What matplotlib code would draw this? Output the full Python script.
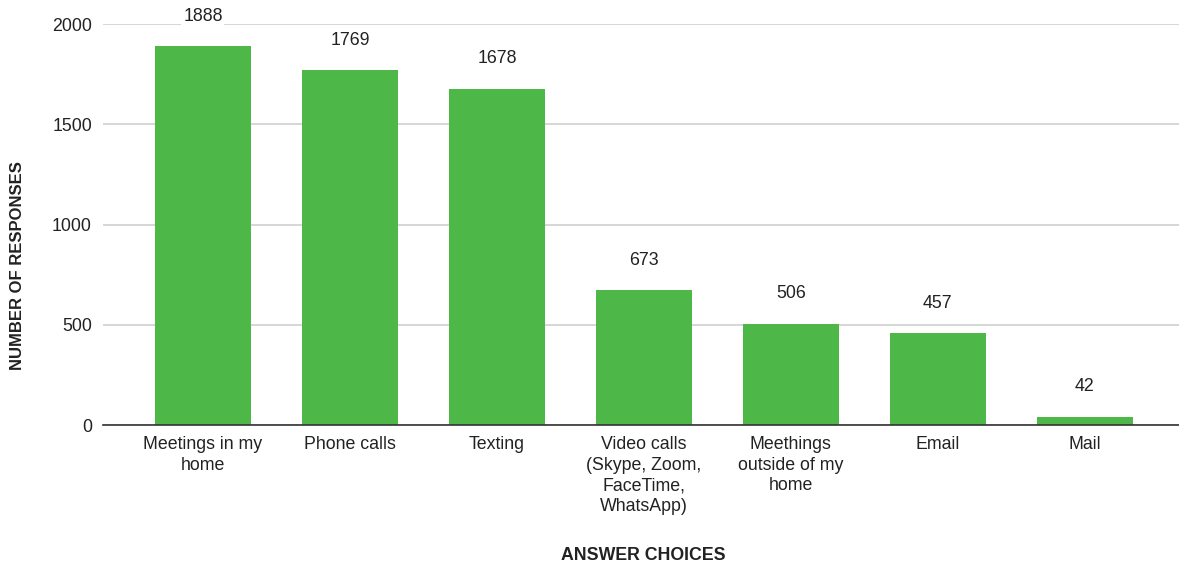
import numpy as np
import matplotlib
matplotlib.use("Agg")
import matplotlib.pyplot as plt

plt.rcParams['font.family'] = ['Liberation Sans', 'DejaVu Sans']

categories = ["Meetings in my\nhome", "Phone calls", "Texting",
              "Video calls\n(Skype, Zoom,\nFaceTime,\nWhatsApp)",
              "Meethings\noutside of my\nhome", "Email", "Mail"]
responses = [1888, 1769, 1678, 673, 506, 457, 42]
yticks = [0, 500, 1000, 1500, 2000]

bar_color = "#4db848"
text_color = "#222222"
fs = 12.8

fig = plt.figure(figsize=(11.79, 5.65), dpi=100)
ax = fig.add_axes([103 / 1179, 140 / 565, 1 - 103 / 1179, 401 / 565])

x = np.arange(len(categories))
bars = ax.bar(x, responses, width=0.65, color=bar_color, zorder=2)

for xi, v in zip(x, responses):
    ax.annotate(str(v), (xi, v), xytext=(0, 21.5), textcoords="offset points",
                ha="center", va="center", fontsize=fs, color=text_color,
                bbox=dict(boxstyle="square,pad=0.1", fc="white", ec="none"),
                zorder=3)

ax.set_xlim(-0.68, 6.64)
ax.set_ylim(0, 2000)
ax.set_yticks(yticks)
ax.set_yticklabels([str(t) for t in yticks], fontsize=fs, color=text_color)
ax.set_xticks(x)
ax.set_xticklabels(categories, fontsize=fs, color=text_color,
                   va="top", ha="center", linespacing=1.28)
ax.tick_params(axis="both", length=0)
ax.tick_params(axis="y", pad=8)
ax.tick_params(axis="x", pad=8)

ax.grid(axis="y", color="#d0d0d0", linewidth=1.2, zorder=0)
for s in ["top", "right", "left"]:
    ax.spines[s].set_visible(False)
ax.spines["bottom"].set_color("#333333")
ax.spines["bottom"].set_linewidth(1.2)
ax.spines["bottom"].set_zorder(4)

fig.text(18 / 1179, 1 - 266 / 565, "NUMBER OF RESPONSES", rotation=90,
         ha="center", va="center", fontsize=12, fontweight="bold", color=text_color)
fig.text(643 / 1179, 1 - 556 / 565, "ANSWER CHOICES",
         ha="center", va="center", fontsize=fs, fontweight="bold", color=text_color)

fig.savefig("out.png", dpi=100)
